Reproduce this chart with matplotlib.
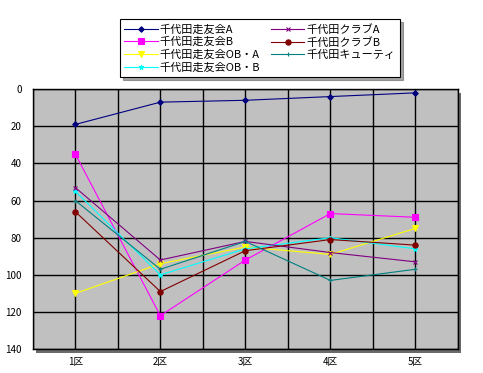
import numpy as np
import matplotlib.pyplot as plt
from matplotlib.patches import Rectangle

plt.rcParams['font.family'] = ['Noto Sans CJK JP', 'DejaVu Sans']

# data
sections = ['1区', '2区', '3区', '4区', '5区']
names = ['千代田走友会A', '千代田走友会B', '千代田走友会OB・A', '千代田走友会OB・B',
         '千代田クラブA', '千代田クラブB', '千代田キューティ']
team_a   = [19, 7, 6, 4, 2]
team_b   = [35, 122, 92, 67, 69]
ob_a     = [110, 94, 85, 89, 75]
ob_b     = [55, 100, 86, 80, 86]
club_a   = [53, 92, 82, 88, 93]
club_b   = [66, 109, 87, 81, 84]
cutie    = [60, 97, 82, 103, 97]

series = [team_a, team_b, ob_a, ob_b, club_a, club_b, cutie]
colors = ['#000080', '#FF00FF', '#FFFF00', '#00FFFF', '#800080', '#800000', '#008080']
markers = ['D', 's', 'v', '*', 'x', 'o', '+']
msizes = [2.8, 3.8, 4.2, 3.5, 3.0, 3.8, 3.5]

fig = plt.figure(figsize=(4.83, 3.73), dpi=100)
ax = fig.add_axes([0.068, 0.064, 0.88, 0.697])

# plot-area shadow
fig.patches.append(Rectangle((0.068 + 0.006, 0.064 - 0.01), 0.88, 0.697,
                             transform=fig.transFigure, facecolor='#6a6a6a',
                             edgecolor='none', zorder=-5))

ax.set_facecolor('#C0C0C0')
x = np.arange(len(sections))
for vals, name, c, m, ms in zip(series, names, colors, markers, msizes):
  ax.plot(x, vals, color=c, marker=m, markersize=ms, linewidth=0.8, label=name,
          markeredgewidth=0.8)

ax.set_xlim(-0.5, 4.5)
ax.set_ylim(140, 0)
ax.set_yticks(range(0, 141, 20))
ax.set_xticks(x)
ax.set_xticklabels(sections)
ax.set_xticks(np.arange(-0.5, 4.6, 0.5), minor=True)
ax.grid(True, which='both', axis='x', color='black', linewidth=1.0)
ax.grid(True, which='major', axis='y', color='black', linewidth=1.0)
ax.set_axisbelow(True)
ax.tick_params(which='both', length=0, labelsize=7)
ax.tick_params(axis='y', pad=8)
ax.tick_params(axis='x', pad=6)
for s in ax.spines.values():
  s.set_color('black')
  s.set_linewidth(1.0)

leg = fig.legend(loc='lower left', bbox_to_anchor=(0.248, 0.794, 0.58, 0.198),
                 mode='expand', ncol=2, fontsize=8, frameon=True, fancybox=False,
                 shadow=True, edgecolor='black', handlelength=3.0,
                 labelspacing=0.2, borderaxespad=0.0, columnspacing=1.0,
                 handletextpad=0.2)
leg.get_frame().set_linewidth(0.8)

fig.savefig('out.png', dpi=100, facecolor='white')
